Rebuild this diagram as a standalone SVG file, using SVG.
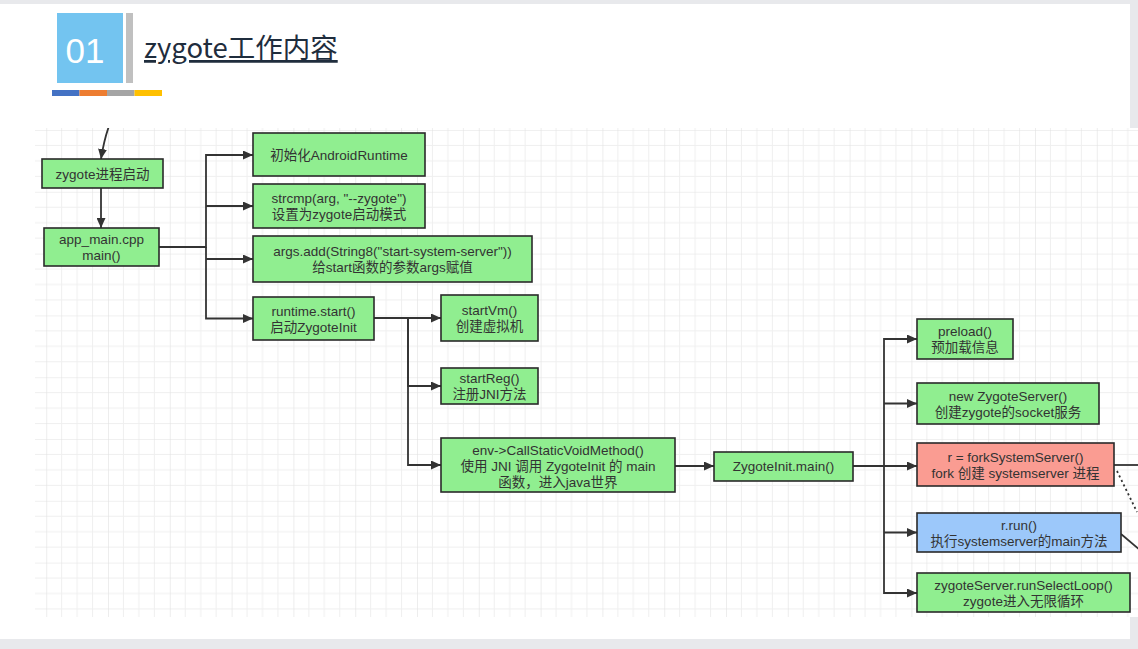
<svg xmlns="http://www.w3.org/2000/svg" width="1138" height="649" viewBox="0 0 1138 649">
  <style>
    .node rect { stroke: #2a2a2a; stroke-width: 1.6; }
    .g rect { fill: #90ee90; }
    .r rect { fill: #fa9c92; }
    .b rect { fill: #9cc8fa; }
    .node text { font-family: "Liberation Sans", "Noto Sans CJK SC", sans-serif; font-size: 13.5px; fill: #333; text-anchor: middle; }
    .edge { fill: none; stroke: #333; stroke-width: 1.8; }
    .arrow { marker-end: url(#ah); }
  </style>
  <defs>
    <marker id="ah" markerUnits="userSpaceOnUse" markerWidth="11" markerHeight="9" refX="10" refY="4.5" orient="auto">
      <path d="M0,0 L10,4.5 L0,9 z" fill="#333"/>
    </marker>
    <pattern id="grid" patternUnits="userSpaceOnUse" x="46.2" y="130" width="61.8" height="61.8">
      <path d="M15.45,0 V61.8 M30.9,0 V61.8 M46.35,0 V61.8 M0,15.45 H61.8 M0,30.9 H61.8 M0,46.35 H61.8" stroke="#efefef" stroke-width="1" fill="none"/>
      <path d="M0,0 V61.8 M0,0 H61.8" stroke="#e2e2e2" stroke-width="1.2" fill="none"/>
    </pattern>
    <clipPath id="view"><rect x="0" y="128" width="1138" height="490"/></clipPath>
  </defs>

  <!-- page background and card -->
  <rect x="0" y="0" width="1138" height="649" fill="#e8e9ec"/>
  <rect x="0" y="4" width="1130" height="635" fill="#ffffff"/>

  <!-- header -->
  <g id="header">
    <rect x="57" y="13" width="66" height="70" fill="#73c4f0"/>
    <text x="85" y="63" font-family="Liberation Sans, Arial, sans-serif" font-size="35" fill="#ffffff" text-anchor="middle">01</text>
    <rect x="126" y="13" width="7" height="70" fill="#c0c0c0"/>
    <text x="144" y="58" font-family="Noto Sans CJK SC, Noto Sans, sans-serif" font-size="27.5" fill="#1f2d3d" text-decoration="underline">zygote工作内容</text>
    <rect x="52" y="90" width="27.5" height="6" fill="#4472c4"/>
    <rect x="79.5" y="90" width="27.5" height="6" fill="#ed7d31"/>
    <rect x="107" y="90" width="27.5" height="6" fill="#a5a5a5"/>
    <rect x="134.5" y="90" width="27.5" height="6" fill="#ffc000"/>
  </g>

  <!-- canvas grid -->
  <rect x="35" y="128" width="1103" height="489" fill="#ffffff"/>
  <rect x="35" y="128" width="1103" height="489" fill="url(#grid)"/>

  <!-- connectors -->
  <g id="connectors" clip-path="url(#view)">
    <path class="edge arrow" d="M109,126 Q104,140 101,159"/>
    <path class="edge arrow" d="M101,188 V228"/>
    <path class="edge arrow" d="M159,247 H206 V155 H253"/>
    <path class="edge arrow" d="M206,206 H253"/>
    <path class="edge arrow" d="M206,259 H253"/>
    <path class="edge arrow" d="M206,247 V318.5 H253"/>
    <path class="edge arrow" d="M374,318 H441"/>
    <path class="edge arrow" d="M408,318 V386 H441"/>
    <path class="edge arrow" d="M408,318 V465 H441"/>
    <path class="edge arrow" d="M675,466 H714"/>
    <path class="edge arrow" d="M853,466 H917"/>
    <path class="edge arrow" d="M884,466 V339 H917"/>
    <path class="edge arrow" d="M884,403.5 H917"/>
    <path class="edge arrow" d="M884,466 V593 H917"/>
    <path class="edge arrow" d="M884,532.5 H917"/>
    <path class="edge" d="M1114,465 H1140"/>
    <path class="edge" d="M1117,471 L1137,512" stroke-dasharray="2,3"/>
    <path class="edge" d="M1121,534 L1140,550"/>
  </g>

  <!-- nodes -->
  <g id="n-zygote-start" class="node g">
    <rect x="42" y="159" width="121" height="29"/>
    <text x="102.5" y="178.5">zygote进程启动</text>
  </g>
  <g id="n-app-main" class="node g">
    <rect x="44" y="228" width="115" height="38"/>
    <text x="101.5" y="244">app_main.cpp</text>
    <text x="101.5" y="260">main()</text>
  </g>
  <g id="n-init-runtime" class="node g">
    <rect x="253" y="133" width="172" height="43"/>
    <text x="339" y="159.5">初始化AndroidRuntime</text>
  </g>
  <g id="n-strcmp" class="node g">
    <rect x="253" y="184" width="172" height="44"/>
    <text x="339" y="203">strcmp(arg, "--zygote")</text>
    <text x="339" y="219">设置为zygote启动模式</text>
  </g>
  <g id="n-args-add" class="node g">
    <rect x="253" y="236" width="279" height="46"/>
    <text x="392.5" y="256">args.add(String8("start-system-server"))</text>
    <text x="392.5" y="272">给start函数的参数args赋值</text>
  </g>
  <g id="n-runtime-start" class="node g">
    <rect x="253" y="297" width="121" height="43"/>
    <text x="313.5" y="315.5">runtime.start()</text>
    <text x="313.5" y="331.5">启动ZygoteInit</text>
  </g>
  <g id="n-startvm" class="node g">
    <rect x="441" y="295" width="97" height="46"/>
    <text x="489.5" y="315">startVm()</text>
    <text x="489.5" y="331">创建虚拟机</text>
  </g>
  <g id="n-startreg" class="node g">
    <rect x="441" y="368" width="97" height="36"/>
    <text x="489.5" y="383">startReg()</text>
    <text x="489.5" y="399">注册JNI方法</text>
  </g>
  <g id="n-call-static" class="node g">
    <rect x="441" y="438" width="234" height="54"/>
    <text x="558" y="454.5">env-&gt;CallStaticVoidMethod()</text>
    <text x="558" y="470.5">使用 JNI 调用 ZygoteInit 的 main</text>
    <text x="558" y="486.5">函数，进入java世界</text>
  </g>
  <g id="n-zygoteinit-main" class="node g">
    <rect x="714" y="452" width="139" height="29"/>
    <text x="783.5" y="471">ZygoteInit.main()</text>
  </g>
  <g id="n-preload" class="node g">
    <rect x="917" y="319" width="96" height="40"/>
    <text x="965" y="336">preload()</text>
    <text x="965" y="352">预加载信息</text>
  </g>
  <g id="n-zygote-server" class="node g">
    <rect x="917" y="383" width="182" height="41"/>
    <text x="1008" y="400.5">new ZygoteServer()</text>
    <text x="1008" y="416.5">创建zygote的socket服务</text>
  </g>
  <g id="n-fork" class="node r">
    <rect x="917" y="443" width="197" height="43"/>
    <text x="1015.5" y="461.5">r = forkSystemServer()</text>
    <text x="1015.5" y="477.5">fork 创建 systemserver 进程</text>
  </g>
  <g id="n-run" class="node b">
    <rect x="917" y="513" width="204" height="39"/>
    <text x="1019" y="529.5">r.run()</text>
    <text x="1019" y="545.5">执行systemserver的main方法</text>
  </g>
  <g id="n-select-loop" class="node g">
    <rect x="917" y="573" width="213" height="39"/>
    <text x="1023.5" y="589.5">zygoteServer.runSelectLoop()</text>
    <text x="1023.5" y="605.5">zygote进入无限循环</text>
  </g>
</svg>
